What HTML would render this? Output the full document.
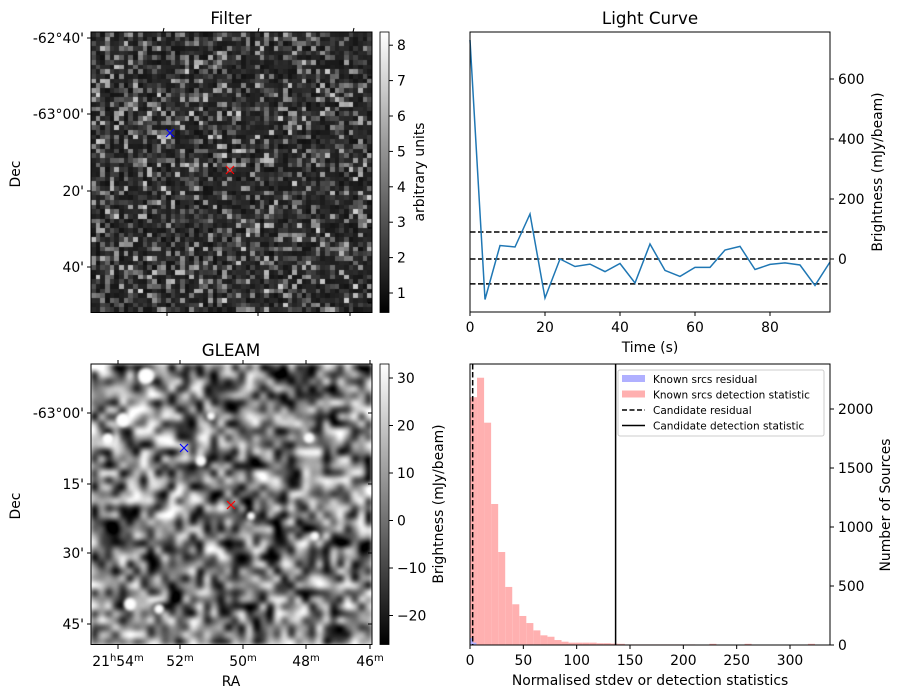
<!DOCTYPE html>
<html><head><meta charset="utf-8"><style>
body{margin:0;background:#fff;}
svg text{font-family:"DejaVu Sans","Liberation Sans",sans-serif;fill:#000;}
</style></head><body>
<div style="position:relative;width:904px;height:699px;">
<canvas id="cf" width="281" height="280" style="position:absolute;left:91px;top:32px;"></canvas>
<canvas id="cg" width="281" height="281" style="position:absolute;left:91px;top:364px;"></canvas>
<svg id="s" width="904" height="699" style="position:absolute;left:0;top:0;">
<defs>
<linearGradient id="gr" x1="0" y1="1" x2="0" y2="0"><stop offset="0" stop-color="#000"/><stop offset="1" stop-color="#fff"/></linearGradient>
</defs>
</svg>
</div>
<script>
// Light curve data
const lcTimes=[0,4,8,12,16,20,24,28,32,36,40,44,48,52,56,60,64,68,72,76,80,84,88,92,96];
const lcValues=[730,-135,45,40,150,-130,0,-25,-17,-42,-15,-80,50,-38,-58,-28,-28,30,42,-35,-18,-13,-20,-88,-10];
const lcLevels=[90,0,-83];
const lcXTicks=[0,20,40,60,80];
const lcYTicks=[0,200,400,600];
// Histogram data
const histBinStart=0;
const histBinWidth=6.6;
const histCounts=[2100,2265,1884,1195,788,492,345,246,186,124,82,70,42,28,20,20,20,20,15,15,12,10,5,5,5,5,5,5,5,5,5,5,3,0,10,0,0,0,0,10,0,0,0,0,0,0,0,0,10,0];
const residCounts=[60,20,0];
const candResidual=2.5;
const candDetection=136.5;
const histXTicks=[0,50,100,150,200,250,300];
const histYTicks=[0,500,1000,1500,2000];

const S=document.getElementById('s');const NS='http://www.w3.org/2000/svg';
function el(t,a,txt){const e=document.createElementNS(NS,t);for(const k in a)e.setAttribute(k,a[k]);if(txt!==undefined)e.textContent=txt;S.appendChild(e);return e;}
const FS=13.9, TS=16.7;

// Light curve axes
const lx=v=>470+v*3.75, ly=v=>259-v*0.3;
lcLevels.forEach(v=>{const e=el('line',{x1:470,x2:830,y1:ly(v),y2:ly(v),stroke:'#000','stroke-width':1.5,'stroke-dasharray':'5.5,2.5'});

});
const lcp=el('polyline',{points:lcTimes.map((t,i)=>lx(t)+','+ly(lcValues[i])).join(' '),fill:'none',stroke:'#1f77b4','stroke-width':1.5});


el('rect',{x:470,y:32,width:360,height:280,fill:'none',stroke:'#000','stroke-width':1,});
lcXTicks.forEach(v=>{el('line',{x1:lx(v),x2:lx(v),y1:312,y2:316,stroke:'#000'});el('text',{x:lx(v),y:332,'font-size':FS,'text-anchor':'middle'},v);});
lcYTicks.forEach(v=>{el('line',{x1:830,x2:834,y1:ly(v),y2:ly(v),stroke:'#000'});el('text',{x:838,y:ly(v)+5,'font-size':FS},v);});
el('text',{x:650,y:24,'font-size':TS,'text-anchor':'middle',},'Light Curve');
el('text',{x:650,y:352,'font-size':FS,'text-anchor':'middle',},'Time (s)');
el('text',{x:0,y:0,'font-size':FS,'text-anchor':'middle',transform:'translate(882,172) rotate(-90)',},'Brightness (mJy/beam)');

// Histogram
const hx=v=>470+v*1.0667, hy=v=>645-v*0.118;
histCounts.forEach((c,i)=>{if(!c)return;const x0=hx(histBinStart+i*histBinWidth);const b=el('rect',{x:x0,y:hy(c),width:hx(histBinStart+(i+1)*histBinWidth)-x0,height:645-hy(c),fill:'#ffb0b0'});

});
residCounts.forEach((c,i)=>{if(!c)return;const b=el('rect',{x:hx(i*3),y:hy(c),width:3.2,height:645-hy(c),fill:'#b0b0ff'});

});
el('line',{x1:hx(candResidual),x2:hx(candResidual),y1:364,y2:645,stroke:'#000','stroke-width':1.5,'stroke-dasharray':'5.5,2.5',});
el('line',{x1:hx(candDetection),x2:hx(candDetection),y1:364,y2:645,stroke:'#000','stroke-width':1.5,});
el('rect',{x:470,y:364,width:360,height:281,fill:'none',stroke:'#000',});
histXTicks.forEach(v=>{el('line',{x1:hx(v),x2:hx(v),y1:645,y2:649,stroke:'#000'});el('text',{x:hx(v),y:665,'font-size':FS,'text-anchor':'middle'},v);});
histYTicks.forEach(v=>{el('line',{x1:830,x2:834,y1:hy(v),y2:hy(v),stroke:'#000'});el('text',{x:838,y:hy(v)+5,'font-size':FS},v);});
el('text',{x:650,y:685,'font-size':FS,'text-anchor':'middle',},'Normalised stdev or detection statistics');
el('text',{x:0,y:0,'font-size':FS,'text-anchor':'middle',transform:'translate(890,505) rotate(-90)',},'Number of Sources');
// legend
el('rect',{x:618,y:370,width:206,height:66,fill:'#fff',stroke:'#ccc',rx:2,});
const lg=[['Known srcs residual','b'],['Known srcs detection statistic','r'],['Candidate residual','d'],['Candidate detection statistic','s']];
lg.forEach((l,i)=>{const y=379+i*15.5;
if(l[1]=='b')el('rect',{x:622,y:y-4,width:23,height:7,fill:'#b0b0ff'});
else if(l[1]=='r')el('rect',{x:622,y:y-4,width:23,height:7,fill:'#ffb0b0'});
else el('line',{x1:622,x2:645,y1:y,y2:y,stroke:'#000','stroke-width':1.5,'stroke-dasharray':l[1]=='d'?'5,2.5':''});
el('text',{x:653,y:y+4,'font-size':10.5,},l[0]);});

// Image panels frames & ticks
function imgAxes(y0,title,yt,cb,cbt,cbTitle){
el('rect',{x:91,y:y0,width:281,height:280.5,fill:'none',stroke:'#000'});
el('text',{x:231,y:y0-8,'font-size':TS,'text-anchor':'middle'},title);
yt.forEach(t=>{el('line',{x1:87,x2:91,y1:t[0],y2:t[0],stroke:'#000'});el('text',{x:84,y:t[0]+5,'font-size':FS,'text-anchor':'end'},t[1]);});
el('rect',{x:380,y:y0,width:9,height:280.5,fill:'url(#gr)',stroke:'#000','stroke-width':0.8});
cbt.forEach(t=>{el('line',{x1:389,x2:393,y1:t[0],y2:t[0],stroke:'#000'});el('text',{x:397,y:t[0]+5,'font-size':FS},t[1]);});
el('text',{x:0,y:0,'font-size':FS,'text-anchor':'middle',transform:`translate(${cb},${y0+140}) rotate(-90)`},cbTitle);
el('text',{x:0,y:0,'font-size':FS,'text-anchor':'middle',transform:`translate(20,${y0+142}) rotate(-90)`},'Dec');
}
imgAxes(32,'Filter',[[38,'-62°40\''],[114,'-63°00\''],[191,'20\''],[267,'40\'']],424,[1,2,3,4,5,6,7,8].map(v=>[293-(v-1)*35.4,v]),'arbitrary units');
imgAxes(364,'GLEAM',[[413,'-63°00\''],[484,'15\''],[553,'30\''],[624,'45\'']],443,[30,20,10,0,-10,-20].map(v=>[378+(30-v)*4.75,v<0?'\u2212'+(-v):v]),'Brightness (mJy/beam)');
[163,258,353].forEach(x=>el('line',{x1:x,x2:x+1,y1:32,y2:28,stroke:'#000'}));
[167,258,350].forEach(x=>el('line',{x1:x,x2:x,y1:312,y2:316,stroke:'#000'}));
[77,152,228,303].forEach(y=>el('line',{x1:372,x2:368,y1:y,y2:y,stroke:'#000'}));
[[118,'54',1],[180,'52'],[243,'50'],[306,'48'],[370,'46']].forEach(t=>{el('line',{x1:t[0],x2:t[0],y1:645,y2:649,stroke:'#000'});el('line',{x1:t[0],x2:t[0],y1:364,y2:360,stroke:'#000'});
const tx=el('text',{x:t[0],y:666,'font-size':FS,'text-anchor':'middle'});tx.innerHTML=(t[2]?'21<tspan dy="-5" font-size="10">h</tspan><tspan dy="5">54</tspan>':t[1])+'<tspan dy="-5" font-size="10">m</tspan>';});
[413,484,553,624].forEach(y=>el('line',{x1:372,x2:368,y1:y,y2:y,stroke:'#000'}));
el('text',{x:231,y:686,'font-size':FS,'text-anchor':'middle'},'RA');
function cross(x,y,c){el('path',{d:`M${x-4},${y-4}L${x+4},${y+4}M${x-4},${y+4}L${x+4},${y-4}`,stroke:c,'stroke-width':1.2});}
cross(170,133,'#00f');cross(230,170,'#f00');cross(184,448,'#00f');cross(231,505,'#f00');

// noise textures (decorative)
let seed=7;function rnd(){seed=(seed*16807)%2147483647;return seed/2147483647;}
(function(){const cv=document.getElementById('cf');const c=cv.getContext('2d');const n=60,p=281/n;
const t=document.createElement('canvas');t.width=t.height=n;const tc=t.getContext('2d');
for(let i=0;i<n;i++)for(let j=0;j<n;j++){let v=rnd();v=18+Math.pow(v,4)*170+rnd()*25;tc.fillStyle=`rgb(${v|0},${v|0},${v|0})`;tc.fillRect(i,j,1,1);}
c.imageSmoothingEnabled=false;c.drawImage(t,0,0,281,280);})();
(function(){const cv=document.getElementById('cg');const c=cv.getContext('2d');const t=document.createElement('canvas');t.width=t.height=40;const tc=t.getContext('2d');
for(let i=0;i<40;i++)for(let j=0;j<40;j++){let v=rnd();v=v*200+25;tc.fillStyle=`rgb(${v|0},${v|0},${v|0})`;tc.fillRect(i,j,1,1);}
c.imageSmoothingEnabled=true;c.filter='blur(2px) contrast(1.7)';c.drawImage(t,0,0,281,281);c.filter='blur(1.5px)';
c.fillStyle='#fff';[[55,12,8],[32,56,7],[17,75,6],[39,240,6],[68,245,5],[110,97,5],[120,52,4],[218,74,5],[224,172,4],[160,152,4]].forEach(b=>{c.beginPath();c.arc(b[0],b[1],b[2],0,7);c.fill();});c.filter='none';})();
</script>
</body></html>
